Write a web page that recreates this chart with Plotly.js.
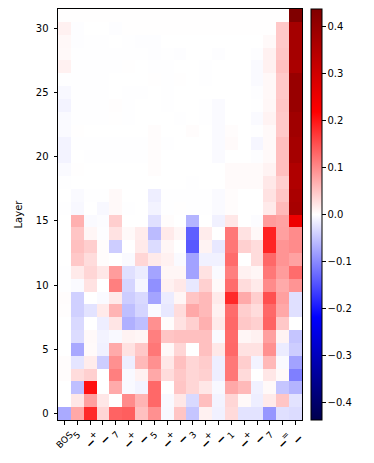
<!DOCTYPE html>
<html>
<head>
<meta charset="utf-8">
<script src="https://cdn.plot.ly/plotly-3.0.1.min.js"></script>
<style>html,body{margin:0;padding:0;background:#fff;}#chart{width:374px;height:463px;}</style>
</head>
<body>
<div id="chart"></div>
<script>
// Token labels (x axis)
const tokens = ["BOS","5","▁+","▁","7","▁+","▁","5","▁+","▁","3","▁+","▁","1","▁+","▁","7","▁=","▁"];
// Layer indices (y axis)
const layers = Array.from({length: 32}, (_, i) => i);
const yTicks = [0, 5, 10, 15, 20, 25, 30];
const cbTicks = [-0.4, -0.3, -0.2, -0.1, 0, 0.1, 0.2, 0.3, 0.4];
const vmax = 0.438;

// Values per layer (row = layer, column = token)
const values = [
  [-0.073,0.075,0.184,0.035,0.134,0.138,0.054,0.095,-0.006,0.05,-0.05,0.012,-0.012,0.032,-0.024,-0.024,-0.09,-0.027,-0.03],
  [0,0.021,0.082,0.021,0,0.1,0.064,0.13,-0.005,0.021,-0.033,0.056,-0.01,0.035,0.005,-0.015,0.018,0.05,-0.024],
  [0,-0.055,0.205,0,0.073,-0.005,-0.01,0.13,0,0.05,0.035,0.021,-0.006,0.075,0.06,-0.012,0.005,-0.05,-0.064],
  [0.003,0.03,0.04,0,0.11,-0.005,0.012,0.075,0.03,0.047,0.035,0.04,-0.015,0.117,0.032,0,0.021,0.005,-0.11],
  [0.003,-0.022,0.016,-0.043,0.095,-0.015,0.06,0.095,0.021,0.054,0.035,0.044,-0.015,0.117,0.042,-0.01,0.06,-0.004,-0.08],
  [0,-0.075,0.004,-0.012,0.073,0.025,0.047,0.117,0.006,0.035,0,0.054,0.02,0.13,0.025,0.025,0.095,-0.016,-0.043],
  [0,-0.03,0.005,-0.01,-0.005,0.01,0.008,0.11,0.05,0.054,0.054,0.054,-0.004,0.128,0.008,0.012,0.082,0.01,-0.05],
  [0,-0.033,0,-0.015,0.022,-0.068,-0.055,0.095,0.003,0.025,0.04,0.068,0.018,0.13,0.047,0.04,0.134,0.047,0],
  [0.002,-0.04,-0.024,0.018,0.064,-0.055,-0.036,-0.004,-0.02,0.03,0.075,0.06,0.012,0.126,0.042,0.03,0.13,0.075,-0.027],
  [0.003,-0.04,0,-0.004,0.018,-0.043,-0.033,-0.078,-0.016,0.008,0.05,0.06,0.018,0.184,0.073,0.042,0.15,0.082,-0.027],
  [-0.001,-0.004,0.025,0,0.11,-0.036,-0.008,-0.095,0.012,0.02,-0.02,0.04,0.005,0.126,0.03,0.018,0.1,0.073,0.092],
  [-0.001,0.018,0.035,0.021,0.085,-0.027,-0.016,-0.078,0.008,0.008,-0.08,0.025,-0.004,0.11,0.012,0.008,0.117,0.085,0.126],
  [0,0.047,0.03,0.003,0,-0.004,0.035,0.018,0.012,-0.004,-0.08,-0.012,-0.012,0.126,0,0.03,0.13,0.092,0.08],
  [0,0.054,0.042,0.003,-0.043,0,0.018,-0.03,0.008,0,-0.143,0.01,-0.02,0.117,0.04,0.03,0.187,0.092,0.1],
  [0,0.05,0.008,-0.002,0.025,0.005,0.016,-0.058,0.018,0.008,-0.137,0.016,0,0.117,0.025,0.006,0.19,0.082,0.1],
  [0,0.068,-0.004,-0.003,0.042,0,0,-0.027,0.003,0,-0.064,0,-0.012,0.021,0,-0.003,0.085,0.08,0.248],
  [-0.001,-0.006,0,-0.006,0.005,-0.001,0,-0.01,-0.001,0.001,-0.001,-0.001,-0.004,0.003,0,0,0.018,0.06,0.37],
  [0,-0.004,-0.001,-0.001,0.005,0,0,-0.015,-0.001,-0.001,-0.001,-0.001,-0.004,0.003,0,0,0.025,0.05,0.365],
  [-0.001,0,0,0,0,0,0,0,0,0,-0.001,0,0,0.004,0.004,0.004,0.02,0.042,0.355],
  [-0.004,0.001,0,0,0,0,0,0.003,0,0,0,0,0,0.004,0.004,0.004,0.01,0.056,0.355],
  [-0.01,0,-0.001,-0.001,-0.001,-0.001,-0.001,0.003,0,0,0,0,-0.004,0,0,-0.002,0.005,0.056,0.375],
  [-0.01,-0.001,-0.001,-0.001,-0.001,-0.001,-0.001,0.003,-0.001,0,0,0,-0.004,0.004,0,-0.008,0.005,0.056,0.375],
  [-0.004,0.001,0,0,0,0,0,0.003,0,0,0.003,0,-0.004,0.003,0,-0.001,0.005,0.047,0.382],
  [-0.004,-0.001,-0.001,-0.001,0.001,-0.001,0,0,0,-0.001,0,-0.001,-0.004,0,0,-0.004,0.01,0.047,0.382],
  [-0.01,-0.001,-0.001,-0.001,0.002,-0.001,0,0,-0.001,0,0,-0.001,-0.004,0,0,-0.001,0.007,0.05,0.396],
  [-0.006,-0.001,-0.001,-0.001,0,-0.001,-0.001,0,-0.001,0,0,0,0,0,0,-0.002,0.006,0.047,0.396],
  [-0.001,-0.001,-0.001,-0.001,0,0,0,0.001,-0.001,0.001,0,-0.001,0,0,0,-0.004,0.006,0.047,0.396],
  [0.012,-0.001,-0.001,-0.001,-0.001,0.001,0,-0.001,-0.001,0,0,-0.001,0,0,0,-0.004,0.012,0.054,0.365],
  [0.005,-0.001,-0.001,-0.001,-0.001,-0.001,-0.001,-0.002,-0.001,-0.002,0,0,-0.002,0,0,-0.002,0.012,0.05,0.375],
  [0.006,-0.002,-0.001,-0.001,0,-0.001,-0.002,-0.002,0,0,0,0,0,0,0,0,0.005,0.047,0.375],
  [0.012,-0.002,0,0,-0.002,0.001,0.001,0.001,0.001,0.001,0.001,0.001,0.001,0.001,0.001,0.001,0.001,0.047,0.375],
  [0.001,0.001,0.001,0.001,0.001,0.001,0.001,0.001,0.001,0.001,0.001,0.001,0.001,0.001,0.001,0.001,0.001,0.001,0.438]
];

const seismic = [
  [0, 'rgb(0,0,77)'],
  [0.25, 'rgb(0,0,255)'],
  [0.5, 'rgb(255,255,255)'],
  [0.75, 'rgb(255,0,0)'],
  [1, 'rgb(128,0,0)']
];

const xIdx = tokens.map((_, i) => i);
const font = {family: 'DejaVu Sans, sans-serif', color: '#000'};

const trace = {
  type: 'heatmap',
  x: xIdx,
  y: layers,
  z: values,
  colorscale: seismic,
  zmin: -vmax,
  zmax: vmax,
  xgap: 0, ygap: 0,
  hoverinfo: 'skip',
  colorbar: {
    thickness: 11, thicknessmode: 'pixels',
    len: 1, lenmode: 'fraction',
    x: 1.038, xanchor: 'left', xpad: 0,
    y: 0.5, yanchor: 'middle', ypad: 0,
    outlinewidth: 1, outlinecolor: '#000',
    ticks: 'outside', ticklen: 3.5, tickwidth: 1, tickcolor: '#000',
    tickvals: cbTicks,
    ticktext: cbTicks.map(v => (v < 0 ? '\u2212' : '') + Math.abs(v).toFixed(1)),
    tickfont: Object.assign({size: 10}, font),
    ticklabelstandoff: 2
  }
};

// Rotated, centred token labels under each column (matplotlib style)
const tokenLabels = tokens.map((t, i) => ({
  x: xIdx[i], xref: 'x',
  y: 0, yref: 'paper',
  yanchor: 'top', xanchor: 'center',
  yshift: -8,
  text: t, textangle: -45, showarrow: false,
  borderpad: 0,
  font: Object.assign({size: 9}, font)
}));

const layout = {
  width: 374, height: 463,
  margin: {l: 58, r: 72, t: 9, b: 43, pad: 0},
  paper_bgcolor: '#fff', plot_bgcolor: '#fff',
  font: font,
  xaxis: {
    range: [-0.5, tokens.length - 0.5],
    tickmode: 'array', tickvals: xIdx,
    showticklabels: false,
    ticks: 'outside', ticklen: 3.5, tickwidth: 1, tickcolor: '#000',
    showline: true, mirror: true, linecolor: '#000', linewidth: 1,
    showgrid: false, zeroline: false
  },
  yaxis: {
    range: [-0.5, layers.length - 0.5],
    tickmode: 'array', tickvals: yTicks,
    tickfont: Object.assign({size: 10}, font),
    ticklabelstandoff: 3,
    ticks: 'outside', ticklen: 3.5, tickwidth: 1, tickcolor: '#000',
    showline: true, mirror: true, linecolor: '#000', linewidth: 1,
    showgrid: false, zeroline: false,
    title: {text: 'Layer', font: Object.assign({size: 10}, font), standoff: 11}
  },
  annotations: tokenLabels
};

Plotly.newPlot('chart', [trace], layout, {displayModeBar: false, staticPlot: true});
</script>
</body>
</html>
